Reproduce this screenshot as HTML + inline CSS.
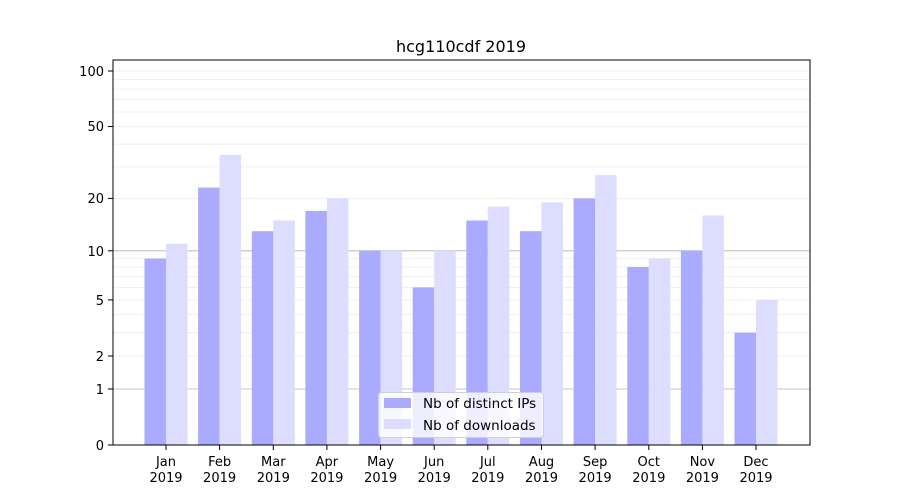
<!DOCTYPE html><html><head><style>body{margin:0;background:#fff}svg{display:block;font-family:"DejaVu Sans","Liberation Sans",sans-serif}</style></head><body>
<svg width="900" height="500" viewBox="0 0 900 500">
<g stroke="#ececec" stroke-width="0.8">
<line x1="113" x2="810" y1="332.7" y2="332.7"/><line x1="113" x2="810" y1="314.6" y2="314.6"/><line x1="113" x2="810" y1="299.9" y2="299.9"/><line x1="113" x2="810" y1="287.4" y2="287.4"/><line x1="113" x2="810" y1="276.6" y2="276.6"/><line x1="113" x2="810" y1="267" y2="267"/><line x1="113" x2="810" y1="258.5" y2="258.5"/><line x1="113" x2="810" y1="356" y2="356"/><line x1="113" x2="810" y1="198.4" y2="198.4"/><line x1="113" x2="810" y1="166.9" y2="166.9"/><line x1="113" x2="810" y1="144.2" y2="144.2"/><line x1="113" x2="810" y1="126.5" y2="126.5"/><line x1="113" x2="810" y1="112" y2="112"/><line x1="113" x2="810" y1="99.7" y2="99.7"/><line x1="113" x2="810" y1="89.1" y2="89.1"/><line x1="113" x2="810" y1="79.6" y2="79.6"/><line x1="113" x2="810" y1="71" y2="71"/>
</g>
<g stroke="#b0b0b0" stroke-width="0.8"><line x1="113" x2="810" y1="389" y2="389"/><line x1="113" x2="810" y1="250.8" y2="250.8"/></g>
<g fill="#aaaaff">
<rect x="144.5" y="258.5" width="21.5" height="186.5"/><rect x="198.1" y="187.6" width="21.5" height="257.4"/><rect x="251.8" y="231.2" width="21.5" height="213.8"/><rect x="305.4" y="210.9" width="21.5" height="234.1"/><rect x="359.1" y="250.8" width="21.5" height="194.2"/><rect x="412.7" y="287.4" width="21.5" height="157.6"/><rect x="466.3" y="220.5" width="21.5" height="224.5"/><rect x="520" y="231.2" width="21.5" height="213.8"/><rect x="573.6" y="198.4" width="21.5" height="246.6"/><rect x="627.3" y="267" width="21.5" height="178"/><rect x="680.9" y="250.8" width="21.5" height="194.2"/><rect x="734.5" y="332.7" width="21.5" height="112.3"/>
</g>
<g fill="#ddddff">
<rect x="166" y="243.7" width="21.5" height="201.3"/><rect x="219.6" y="154.8" width="21.5" height="290.2"/><rect x="273.3" y="220.5" width="21.5" height="224.5"/><rect x="326.9" y="198.4" width="21.5" height="246.6"/><rect x="380.6" y="250.8" width="21.5" height="194.2"/><rect x="434.2" y="250.8" width="21.5" height="194.2"/><rect x="487.8" y="206.5" width="21.5" height="238.5"/><rect x="541.5" y="202.4" width="21.5" height="242.6"/><rect x="595.1" y="175.1" width="21.5" height="269.9"/><rect x="648.8" y="258.5" width="21.5" height="186.5"/><rect x="702.4" y="215.5" width="21.5" height="229.5"/><rect x="756" y="299.9" width="21.5" height="145.1"/>
</g>
<rect x="113" y="60" width="697" height="385" fill="none" stroke="#000" stroke-width="1"/>
<g stroke="#000" stroke-width="1">
<line x1="108" x2="113" y1="445" y2="445"/><line x1="108" x2="113" y1="389" y2="389"/><line x1="108" x2="113" y1="356" y2="356"/><line x1="108" x2="113" y1="299.9" y2="299.9"/><line x1="108" x2="113" y1="250.8" y2="250.8"/><line x1="108" x2="113" y1="198.4" y2="198.4"/><line x1="108" x2="113" y1="126.5" y2="126.5"/><line x1="108" x2="113" y1="71" y2="71"/>
<line x1="166" x2="166" y1="445" y2="450"/><line x1="219.6" x2="219.6" y1="445" y2="450"/><line x1="273.3" x2="273.3" y1="445" y2="450"/><line x1="326.9" x2="326.9" y1="445" y2="450"/><line x1="380.6" x2="380.6" y1="445" y2="450"/><line x1="434.2" x2="434.2" y1="445" y2="450"/><line x1="487.8" x2="487.8" y1="445" y2="450"/><line x1="541.5" x2="541.5" y1="445" y2="450"/><line x1="595.1" x2="595.1" y1="445" y2="450"/><line x1="648.8" x2="648.8" y1="445" y2="450"/><line x1="702.4" x2="702.4" y1="445" y2="450"/><line x1="756" x2="756" y1="445" y2="450"/>
</g>
<g font-size="13" text-anchor="end" fill="#000">
<text x="104" y="450">0</text><text x="104" y="394">1</text><text x="104" y="361">2</text><text x="104" y="305">5</text><text x="104" y="256">10</text><text x="104" y="203">20</text><text x="104" y="131">50</text><text x="104" y="76">100</text>
</g>
<g font-size="13" text-anchor="middle" fill="#000">
<text x="166" y="466">Jan</text><text x="219.6" y="466">Feb</text><text x="273.3" y="466">Mar</text><text x="326.9" y="466">Apr</text><text x="380.6" y="466">May</text><text x="434.2" y="466">Jun</text><text x="487.8" y="466">Jul</text><text x="541.5" y="466">Aug</text><text x="595.1" y="466">Sep</text><text x="648.8" y="466">Oct</text><text x="702.4" y="466">Nov</text><text x="756" y="466">Dec</text>
<text x="166" y="482">2019</text><text x="219.6" y="482">2019</text><text x="273.3" y="482">2019</text><text x="326.9" y="482">2019</text><text x="380.6" y="482">2019</text><text x="434.2" y="482">2019</text><text x="487.8" y="482">2019</text><text x="541.5" y="482">2019</text><text x="595.1" y="482">2019</text><text x="648.8" y="482">2019</text><text x="702.4" y="482">2019</text><text x="756" y="482">2019</text>
<text x="461" y="52" font-size="16">hcg110cdf 2019</text>
</g>
<rect x="378.5" y="392.5" width="165" height="45" rx="3" fill="#fff" fill-opacity="0.8" stroke="#d0d0d0"/>
<rect x="384" y="398" width="27" height="10" fill="#aaaaff"/>
<rect x="384" y="419" width="27" height="10" fill="#ddddff"/>
<g font-size="13.5" fill="#000"><text x="423" y="408">Nb of distinct IPs</text><text x="423" y="430">Nb of downloads</text></g>
</svg></body></html>
